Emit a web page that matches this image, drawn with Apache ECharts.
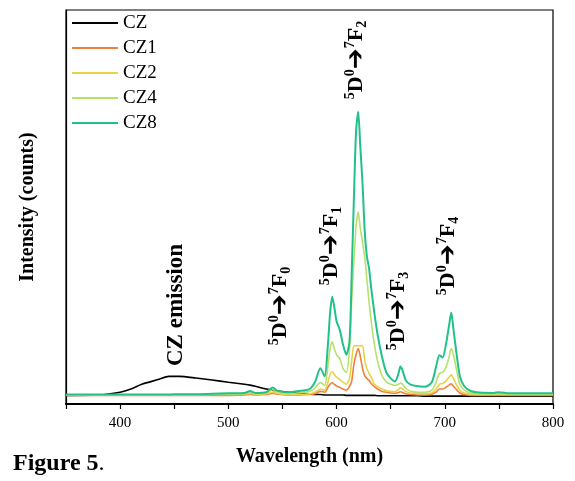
<!DOCTYPE html>
<html><head><meta charset="utf-8">
<script src="https://cdn.jsdelivr.net/npm/echarts@6/dist/echarts.min.js"></script>
<style>html,body{margin:0;padding:0;background:#fff}#c{width:575px;height:481px}</style>
</head><body><div id="c"></div>
<script>
const wavelengths = [
  350,380,400,410,420,435,445,455,470,485,
  500,515,520,525,535,541,545,555,565,575,
  580,585,589,592,594,596,598,600,603,606,
  609,612,614,616,618,620,622,624,626,628,
  630,632,635,638,642,646,650,654,657,659,
  661,664,668,675,682,688,692,695,698,701,
  704,706,708,711,714,718,724,732,745,750,
  760,780,800
];
const CZ = [
  22,23,30,38,50,62,70,70,66,61,
  55,50,48,45,38,35,33,30,27,25,
  24,24,23,23,23,23,23,23,23,23,
  22,22,22,22,22,22,22,22,22,22,
  22,22,22,21,21,21,21,21,21,21,
  21,21,21,21,20,20,20,20,20,20,
  20,20,20,20,20,20,20,20,20,20,
  20,20,20
];
const CZ1 = [
  22,22,22,22,22,22,22,22,22,22,
  22,23,24,23,24,27,25,23,23,24,
  26,32,30,42,50,54,50,46,42,38,
  35,45,58,100,125,141,120,90,72,65,
  60,52,44,38,32,30,28,27,29,31,
  29,26,24,23,23,25,30,38,38,42,
  48,51,45,36,28,24,22,22,22,22,
  22,22,22
];
const CZ2 = [
  23,23,23,23,23,23,23,23,23,24,
  24,25,27,25,26,30,27,24,24,26,
  30,38,35,55,75,82,75,68,62,55,
  50,65,110,148,148,148,148,148,110,90,
  78,68,50,44,38,34,32,31,36,41,
  38,32,28,27,26,28,38,50,52,58,
  68,74,65,48,35,28,25,24,24,25,
  24,24,24
];
const CZ4 = [
  23,23,23,23,23,23,23,24,24,25,
  25,26,30,26,28,36,31,27,28,32,
  40,55,47,95,140,158,140,125,115,90,
  80,140,264,360,450,487,445,410,374,316,
  260,210,150,108,72,56,50,47,50,53,
  50,40,33,30,30,35,55,78,80,92,
  120,141,125,85,50,35,28,26,25,27,
  25,25,25
];
const CZ8 = [
  24,24,24,24,24,24,24,25,25,26,
  27,28,33,28,30,42,34,30,33,38,
  55,91,70,150,230,272,245,210,188,150,
  125,160,330,520,690,742,650,560,440,375,
  345,295,230,175,120,80,65,57,75,95,
  85,60,50,45,44,55,95,124,118,150,
  200,232,190,125,70,45,33,29,28,30,
  27,27,27
];
const seriesNames = ['CZ','CZ1','CZ2','CZ4','CZ8'];
const seriesValues = [CZ, CZ1, CZ2, CZ4, CZ8];
const seriesColors = ['#000000','#f0803c','#e6d446','#b8e06c','#22c08c'];
const xTickLabels = [400,500,600,700,800];

const serif = 'Liberation Serif, Times New Roman, serif';
const chart = echarts.init(document.getElementById('c'));

function trans(sub){
  return {
    text: '{sup|5}{b|D}{sup|0}{arr|➔}{sup|7}{b|F}{sub|' + sub + '}',
    rich: {
      b: {fontSize: 22, fontWeight: 'bold', fontFamily: serif, lineHeight: 26, verticalAlign: 'middle'},
      sup: {fontSize: 14, fontWeight: 'bold', fontFamily: serif, verticalAlign: 'top', lineHeight: 14},
      sub: {fontSize: 14, fontWeight: 'bold', fontFamily: serif, verticalAlign: 'bottom', lineHeight: 14},
      arr: {fontSize: 25, fontWeight: 'bold', fontFamily: 'DejaVu Sans', lineHeight: 26, verticalAlign: 'middle'}
    },
    align: 'center', verticalAlign: 'middle', fill: '#000'
  };
}
const annots = [
  {sub:'0', x:280, y:306},
  {sub:'1', x:331, y:246},
  {sub:'2', x:356, y:60},
  {sub:'3', x:398, y:311},
  {sub:'4', x:448, y:256}
];

chart.setOption({
  animation: false,
  backgroundColor: '#fff',
  grid: {left: 66, right: 22, top: 10, bottom: 77, show: true, borderColor: '#000', borderWidth: 1.2},
  legend: {
    orient: 'vertical', left: 67, top: 8,
    icon: 'rect', itemWidth: 46, itemHeight: 2, itemGap: 5,
    textStyle: {fontFamily: serif, fontSize: 19, color: '#000', lineHeight: 20},
    data: seriesNames
  },
  xAxis: {
    type: 'value', min: 350, max: 800, interval: 50,
    name: 'Wavelength (nm)', nameLocation: 'middle', nameGap: 43,
    nameTextStyle: {fontFamily: serif, fontSize: 20, fontWeight: 'bold', color: '#000'},
    axisLine: {lineStyle: {color: '#000', width: 2}},
    axisTick: {show: true, inside: false, length: 5, lineStyle: {color: '#000', width: 1.2}},
    axisLabel: {
      fontFamily: serif, fontSize: 15, color: '#000', margin: 12,
      formatter: v => xTickLabels.indexOf(v) >= 0 ? String(v) : ''
    },
    splitLine: {show: false}
  },
  yAxis: {
    type: 'value', min: 0, max: 1000,
    name: 'Intensity (counts)', nameLocation: 'middle', nameGap: 28,
    nameTextStyle: {fontFamily: serif, fontSize: 20, fontWeight: 'bold', color: '#000'},
    axisLine: {show: true, lineStyle: {color: '#000', width: 1.2}},
    axisTick: {show: false}, axisLabel: {show: false}, splitLine: {show: false}
  },
  series: seriesNames.map((n, i) => ({
    name: n, type: 'line', symbol: 'none', smooth: 0.25,
    lineStyle: {color: seriesColors[i], width: i === 4 ? 2 : 1.6},
    itemStyle: {color: seriesColors[i]},
    data: wavelengths.map((w, k) => [w, seriesValues[i][k]])
  })),
  graphic: [
    {type: 'text', x: 176, y: 305, rotation: Math.PI/2,
     style: {text: 'CZ emission', fontFamily: serif, fontSize: 23, fontWeight: 'bold', fill: '#000', align: 'center', verticalAlign: 'middle'}},
    {type: 'text', left: 13, top: 452,
     style: {text: '{b|Figure 5}{n|.}', rich: {b: {fontFamily: serif, fontSize: 24, fontWeight: 'bold', fill: '#000'}, n: {fontFamily: serif, fontSize: 24, fill: '#000'}}}}
  ].concat(annots.map(a => ({type: 'text', x: a.x, y: a.y, rotation: Math.PI/2, style: trans(a.sub)})))
});
</script>
</body></html>
